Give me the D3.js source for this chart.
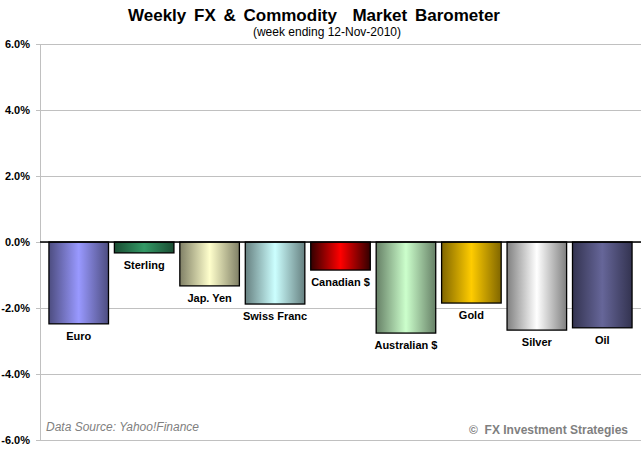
<!DOCTYPE html>
<html>
<head>
<meta charset="utf-8">
<script src="https://cdn.jsdelivr.net/npm/d3@7"></script>
<style>
  body { margin: 0; background: #fff; }
  svg { font-family: "Liberation Sans", Arial, sans-serif; display: block; }
</style>
</head>
<body>
<svg width="643" height="453"></svg>
<script>
const categories = ["Euro", "Sterling", "Jap. Yen", "Swiss Franc", "Canadian $", "Australian $", "Gold", "Silver", "Oil"];
const values = [-2.48, -0.33, -1.33, -1.88, -0.85, -2.76, -1.85, -2.67, -2.60];
const yTicks = [6, 4, 2, 0, -2, -4, -6];
// centre colour and edge colour for each bar gradient
const centreColors = ["#9999ff", "#339966", "#ffffcc", "#ccffff", "#ff0000", "#ccffcc", "#ffcc00", "#ffffff", "#666699"];
const edgeColors = ["#4d4d80", "#1a4d33", "#808066", "#668080", "#330000", "#668066", "#806600", "#808080", "#333350"];

const data = categories.map((c, i) => ({ name: c, value: values[i], i }));

const svg = d3.select("svg");
const plotLeft = 40, plotRight = 641, plotTop = 44, plotBottom = 440;

const y = d3.scaleLinear().domain([-6, 6]).range([plotBottom, plotTop]);
const x = d3.scaleBand()
  .domain(categories)
  .range([46, 635])
  .paddingInner(0.09)
  .paddingOuter(0.045);

const defs = svg.append("defs");
data.forEach(d => {
  const g = defs.append("linearGradient")
    .attr("id", "grad" + d.i)
    .attr("x1", "0%").attr("x2", "100%").attr("y1", "0%").attr("y2", "0%");
  g.append("stop").attr("offset", "0%").attr("stop-color", edgeColors[d.i]);
  g.append("stop").attr("offset", "50%").attr("stop-color", centreColors[d.i]);
  g.append("stop").attr("offset", "100%").attr("stop-color", edgeColors[d.i]);
});

// gridlines
svg.append("g")
  .attr("transform", `translate(${plotLeft},0)`)
  .call(d3.axisLeft(y).tickValues(yTicks).tickSize(-(plotRight - plotLeft)).tickFormat(""))
  .call(g => g.select(".domain").remove())
  .call(g => g.selectAll("line").attr("stroke", "#c0c0c0"));

// y axis
svg.append("g")
  .attr("transform", `translate(${plotLeft},0)`)
  .call(d3.axisLeft(y).tickValues(yTicks).tickSize(4).tickPadding(6)
    .tickFormat(d => d.toFixed(1) + "%"))
  .call(g => g.select(".domain").attr("stroke", "#c0c0c0"))
  .call(g => g.selectAll("line").attr("stroke", "#c0c0c0"))
  .call(g => g.selectAll("text")
    .attr("font-size", 11).attr("font-weight", "bold").attr("fill", "#000")
    .attr("font-family", "Liberation Sans, Arial, sans-serif"));

// bars
svg.append("g")
  .selectAll("rect")
  .data(data)
  .enter()
  .append("rect")
  .attr("x", d => x(d.name))
  .attr("y", y(0))
  .attr("width", x.bandwidth())
  .attr("height", d => y(d.value) - y(0))
  .attr("fill", d => `url(#grad${d.i})`)
  .attr("stroke", "#000")
  .attr("stroke-width", 1.3);

// zero line
svg.append("line")
  .attr("x1", plotLeft).attr("x2", plotRight)
  .attr("y1", y(0)).attr("y2", y(0))
  .attr("stroke", "#000")
  .attr("stroke-width", 1.3);

// bar labels
svg.append("g")
  .selectAll("text")
  .data(data)
  .enter()
  .append("text")
  .attr("x", d => x(d.name) + x.bandwidth() / 2)
  .attr("y", d => y(d.value) + 16)
  .attr("text-anchor", "middle")
  .attr("font-size", 11)
  .attr("font-weight", "bold")
  .text(d => d.name);

svg.append("text")
  .attr("x", 314)
  .attr("y", 21)
  .attr("text-anchor", "middle")
  .attr("font-size", 17)
  .attr("font-weight", "bold")
  .attr("word-spacing", 3)
  .style("white-space", "pre")
  .text("Weekly FX & Commodity  Market Barometer");

svg.append("text")
  .attr("x", 327)
  .attr("y", 36)
  .attr("text-anchor", "middle")
  .attr("font-size", 12)
  .text("(week ending 12-Nov-2010)");

svg.append("text")
  .attr("x", 46)
  .attr("y", 431)
  .attr("font-size", 12)
  .attr("font-style", "italic")
  .attr("fill", "#808080")
  .text("Data Source: Yahoo!Finance");

svg.append("text")
  .attr("x", 628)
  .attr("y", 434)
  .attr("text-anchor", "end")
  .attr("font-size", 12)
  .attr("font-weight", "bold")
  .attr("fill", "#808080")
  .style("white-space", "pre")
  .text("©  FX Investment Strategies");
</script>
</body>
</html>
